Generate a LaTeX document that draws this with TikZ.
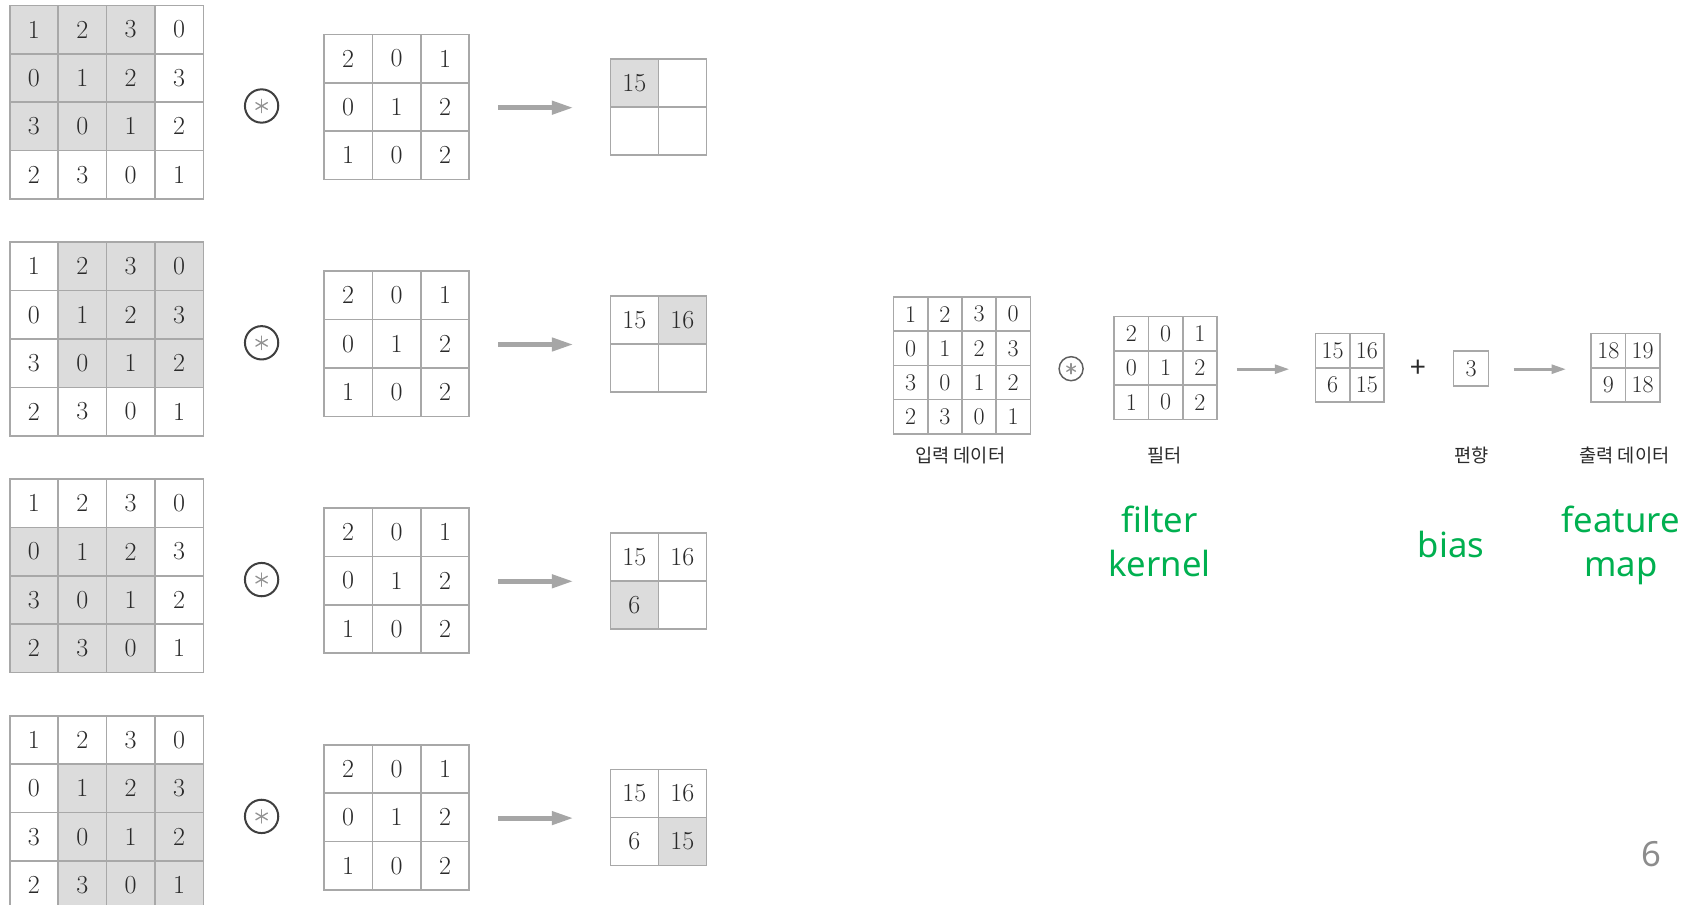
\documentclass[tikz,border=0pt]{standalone}
\usepackage{fontspec}
\newfontfamily\krfont{Noto Sans CJK KR}
\newfontfamily\uifont{Noto Sans}
\usetikzlibrary{arrows.meta}

\definecolor{gridgray}{HTML}{A8A8A8}
\definecolor{shade}{HTML}{DCDCDC}
\definecolor{numtext}{HTML}{2A2A2A}
\definecolor{arrowgray}{HTML}{A6A6A6}
\definecolor{pptgreen}{HTML}{00B050}
\definecolor{pagegray}{HTML}{8C8C8C}

\tikzset{
  cellbox/.style={draw=gridgray, line width=1.2pt, inner sep=0pt, text=numtext},
  num/.style={font=\fontsize{19.5}{20}\selectfont},
  bigarrow/.style={draw=arrowgray, line width=3.8pt, -{Triangle[length=16.5pt,width=9.5pt]}},
  smallarrow/.style={draw=arrowgray, line width=2.4pt, -{Triangle[length=11pt,width=6.5pt]}},
  krlabel/.style={font=\krfont\fontsize{14}{15}\selectfont, text=numtext},
  greentext/.style={font=\uifont\fontsize{26}{33}\selectfont, text=pptgreen, align=center},
}

% grid of numbered cells: name, left, top, cell size (px), columns,
% first row / column of the shaded 3x3 window, entries row by row
\newcommand{\numgrid}[8]{%
  \foreach \v [count=\i from 0] in {#8} {
    \pgfmathtruncatemacro{\rr}{div(\i,#5)}
    \pgfmathtruncatemacro{\cc}{mod(\i,#5)}
    \pgfmathtruncatemacro{\sh}{and(and(\rr>#6-1,\rr<#6+3),and(\cc>#7-1,\cc<#7+3))}
    \ifnum\sh=1 \def\fc{shade}\else\def\fc{white}\fi
    \node[cellbox, num, fill=\fc, minimum size=#4*0.75pt]
      (#1-\rr-\cc) at ({#2+(\cc+0.5)*#4},{#3+(\rr+0.5)*#4}) {\v};
  }%
}

% circled convolution operator: name, x, y, radius (pt), arm (pt), ring colour, ring width
\newcommand{\convop}[7]{%
  \node[circle, draw=#6, line width=#7, minimum size=2*#4, inner sep=0pt] (#1) at (#2,#3) {};
  \foreach \a in {90,30,150}
    \draw[line width=1pt, line cap=round, draw=gray!85]
      ([shift={(\a:#5)}]#1.center) -- ([shift={(\a+180:#5)}]#1.center);
}

\begin{document}
\begin{tikzpicture}[x=0.75pt,y=-0.75pt]
\fill[white] (0,0) rectangle (1688,905);
\useasboundingbox (0,0) rectangle (1688,905);
\clip (0,0) rectangle (1688,905);

% ---- four steps of the sliding window ----
\foreach \k/\sr/\sc in {0/0/0,1/0/1,2/1/0,3/1/1} {
  \pgfmathsetmacro{\dy}{\k*236.8}
  \numgrid{in\k}{9.7}{5.4+\dy}{48.4}{4}{\sr}{\sc}{1,2,3,0,0,1,2,3,3,0,1,2,2,3,0,1}
  \convop{op\k}{261.6}{106+\dy}{12.5pt}{5pt}{numtext!90}{1.5pt}
  \numgrid{fl\k}{324}{34.4+\dy}{48.4}{3}{9}{9}{2,0,1,0,1,2,1,0,2}
  \coordinate (as\k) at (498.4,107.7+\dy);
  \coordinate (ae\k) at (573.8,107.7+\dy);
  \draw[bigarrow] (as\k) -- (ae\k);
  \foreach \i/\v in {0/15,1/16,2/6,3/15} {
    \pgfmathtruncatemacro{\rr}{div(\i,2)}
    \pgfmathtruncatemacro{\cc}{mod(\i,2)}
    \ifnum\i>\k \def\txt{}\else\let\txt\v\fi
    \ifnum\i=\k \def\fc{shade}\else\def\fc{white}\fi
    \node[cellbox, num, fill=\fc, minimum size=48*0.75pt]
      (out\k-\rr-\cc) at ({610.4+(\cc+0.5)*48},{59.2+\dy+(\rr+0.5)*48}) {\txt};
  }
}

% ---- summary: input * filter + bias = output ----
\begin{scope}[num/.style={font=\fontsize{18}{19}\selectfont}]
  \numgrid{rin}{893.5}{297.1}{34.2}{4}{9}{9}{1,2,3,0,0,1,2,3,3,0,1,2,2,3,0,1}
  \numgrid{rfl}{1114.2}{316.5}{34.3}{3}{9}{9}{2,0,1,0,1,2,1,0,2}
  \numgrid{rout}{1315.5}{333.7}{34.3}{2}{9}{9}{15,16,6,15}
  \numgrid{rres}{1591.1}{333.7}{34.3}{2}{9}{9}{18,19,9,18}
  \node[cellbox, num, minimum size=35*0.75pt] (bias) at (1471,368.7) {3};
\end{scope}
\convop{rop}{1071.1}{368.7}{9pt}{3.8pt}{numtext!75}{1.1pt}
\coordinate (rs1) at (1236.9,369.2);
\coordinate (re1) at (1289.6,369.2);
\draw[smallarrow] (rs1) -- (re1);
\node[font=\krfont\fontsize{21}{21}\selectfont, text=numtext] (plus) at (1417.8,369.2) {+};
\coordinate (rs2) at (1513.6,369.2);
\coordinate (re2) at (1566.3,369.2);
\draw[smallarrow] (rs2) -- (re2);

\node[krlabel] (lin) at (960.2,455.4) {입력 데이터};
\node[krlabel] (lfl) at (1164.8,455.4) {필터};
\node[krlabel] (lbias) at (1471.6,455.4) {편향};
\node[krlabel] (lout) at (1624.4,455.4) {출력 데이터};

\node[greentext] (gfk) at (1159.4,541) {filter\\kernel};
\node[greentext] (gbias) at (1451.1,544.7) {bias};
\node[greentext] (gfm) at (1621,545.2) {feature\\map};

\node[font=\uifont\fontsize{26}{26}\selectfont, text=pagegray] (page) at (1651.4,853.7) {6};
\end{tikzpicture}
\end{document}
